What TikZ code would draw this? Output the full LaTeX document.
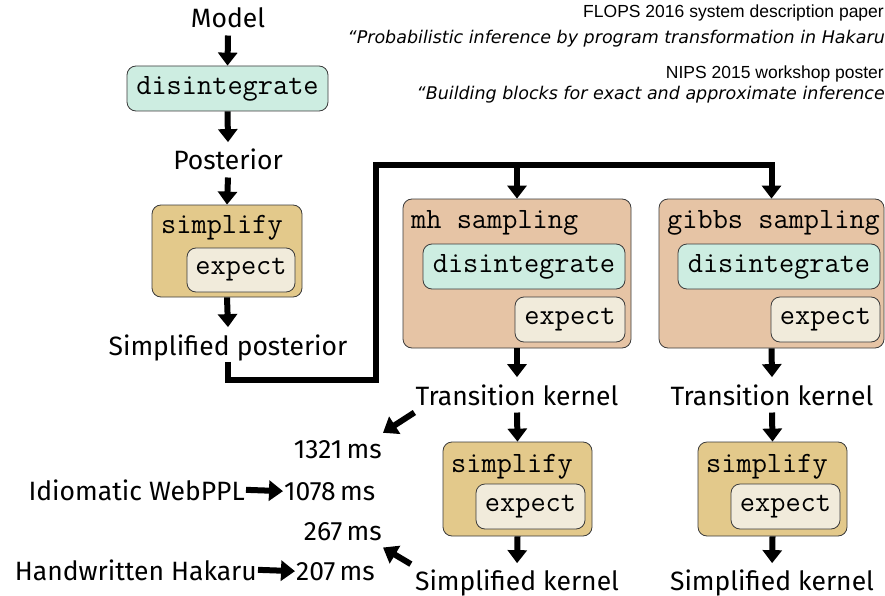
\documentclass[tikz,border=0pt]{standalone}
\usepackage{fontspec}
\setmainfont{Fira Sans}
\newfontfamily\arialf{Liberation Sans}
\newfontfamily\obliquef{DejaVu Sans}
\usetikzlibrary{arrows.meta}
\definecolor{mint}{HTML}{CDEDE1}
\definecolor{tan}{HTML}{E3C98B}
\definecolor{cream}{HTML}{F1EBDB}
\definecolor{peach}{HTML}{E6C4A5}
\definecolor{edge}{HTML}{3A3A3A}
\begin{document}
\begin{tikzpicture}[x=1pt,y=-1pt,
  box/.style={draw=edge, line width=0.8pt, rounded corners=9pt, inner sep=0pt,
    font=\fontsize{29.5}{31}\selectfont\ttfamily},
  ttlab/.style={inner sep=0pt, font=\fontsize{29.5}{31}\selectfont\ttfamily},
  lab/.style={inner xsep=1pt, inner ysep=7pt, font=\fontsize{26.5}{29}\selectfont},
  ref/.style={inner sep=0pt, anchor=base east, font=\fontsize{17.5}{20}\selectfont\arialf},
  refit/.style={inner sep=0pt, anchor=base east, font=\fontsize{17.5}{20}\selectfont\obliquef\itshape},
  arr/.style={line width=6pt, -{Triangle[width=19pt,length=13pt]}},
  sarr/.style={line width=6pt, -{Triangle[width=20pt,length=14pt]}}]
\useasboundingbox (0,0) rectangle (885,596);

% reference texts
\node[ref] (r1) at (884,18) {FLOPS 2016 system description paper};
\node[refit] (r2) at (885,44) {“Probabilistic inference by program transformation in Hakaru};
\node[ref] (r3) at (884,79) {NIPS 2015 workshop poster};
\node[refit] (r4) at (885,100) {“Building blocks for exact and approximate inference};

% left column
\node[lab, anchor=base] (model) at (228,28) {Model};
\node[box, fill=mint, minimum width=201pt, minimum height=45pt] (dis1) at (227.5,88.5) {disintegrate};
\node[lab, anchor=base] (post) at (228,170) {Posterior};
\node[box, fill=tan, minimum width=150pt, minimum height=92pt] (simp1) at (227,251) {};
\node[ttlab, anchor=base west] (simp1l) at (161,233) {simplify};
\node[box, fill=cream, minimum width=108pt, minimum height=44pt] (exp1) at (241,270) {expect};
\node[lab, anchor=base] (spost) at (228,355) {Simplified posterior};

\draw[arr] (model.south) -- (dis1.north);
\draw[arr] (dis1.south) -- (post.north);
\draw[arr] (post.south) -- (simp1.north);
\draw[arr] (simp1.south) -- (spost.north);

% mh sampling
\node[box, fill=peach, minimum width=228pt, minimum height=149pt] (mh) at (517,273.5) {};
\node[ttlab, anchor=base west] (mhl) at (411,228) {mh sampling};
\node[box, fill=mint, minimum width=202pt, minimum height=45pt] (mhdis) at (524,266.5) {disintegrate};
\node[box, fill=cream, minimum width=110pt, minimum height=45pt] (mhexp) at (570,319.5) {expect};

% gibbs sampling
\node[box, fill=peach, minimum width=225pt, minimum height=149pt] (gibbs) at (771.5,273.5) {};
\node[ttlab, anchor=base west] (gibbsl) at (667,228) {gibbs sampling};
\node[box, fill=mint, minimum width=202pt, minimum height=45pt] (gdis) at (779,266.5) {disintegrate};
\node[box, fill=cream, minimum width=109pt, minimum height=45pt] (gexp) at (825.5,319.5) {expect};

% connector
\coordinate (cstart) at ([yshift=6pt]spost.south);
\coordinate (cb) at (376,380);
\coordinate (jt) at (376,165);
\draw[arr, line join=miter] (cstart) |- (cb) -- (jt) -| (gibbs.north);
\draw[arr] (mh.north |- jt) -- (mh.north);

% kernels
\node[lab, anchor=base] (tk1) at (517,405) {Transition kernel};
\node[lab, anchor=base] (tk2) at (772,405) {Transition kernel};
\draw[arr] (mh.south) -- (tk1.north);
\draw[arr] (gibbs.south) -- (tk2.north);

\node[box, fill=tan, minimum width=149pt, minimum height=94pt] (simp2) at (517.5,489) {};
\node[ttlab, anchor=base west] (simp2l) at (451,472) {simplify};
\node[box, fill=cream, minimum width=109pt, minimum height=45pt] (exp2) at (530.5,506.5) {expect};
\node[box, fill=tan, minimum width=149pt, minimum height=94pt] (simp3) at (772.5,489) {};
\node[ttlab, anchor=base west] (simp3l) at (706,472) {simplify};
\node[box, fill=cream, minimum width=109pt, minimum height=45pt] (exp3) at (785.5,506.5) {expect};

\draw[arr] (tk1.south) -- (simp2.north);
\draw[arr] (tk2.south) -- (simp3.north);

\node[lab, inner ysep=1pt, anchor=base] (sk1) at (517,590) {Simplified kernel};
\node[lab, inner ysep=1pt, anchor=base] (sk2) at (772,590) {Simplified kernel};
\draw[arr, shorten >=5pt] (simp2.south) -- (sk1.north);
\draw[arr, shorten >=5pt] (simp3.south) -- (sk2.north);

% timings
\node[lab, anchor=base east] (t1321) at (383,458) {1321\,ms};
\node[lab, anchor=base west] (t1078) at (283,500) {1078\,ms};
\node[lab, anchor=base east] (webppl) at (246,500) {Idiomatic WebPPL};
\node[lab, anchor=base east] (t267) at (383,540) {267\,ms};
\node[lab, anchor=base west] (t207) at (295,580) {207\,ms};
\node[lab, anchor=base east] (hand) at (258,580) {Handwritten Hakaru};

\draw[sarr] (webppl.east) -- (t1078.west);
\draw[sarr] (hand.east) -- (t207.west);
\draw[sarr] (tk1.south west) -- (t1321.north east);
\draw[sarr] ([xshift=-3pt,yshift=4pt]sk1.north west) -- (t267.south east);
\end{tikzpicture}
\end{document}
